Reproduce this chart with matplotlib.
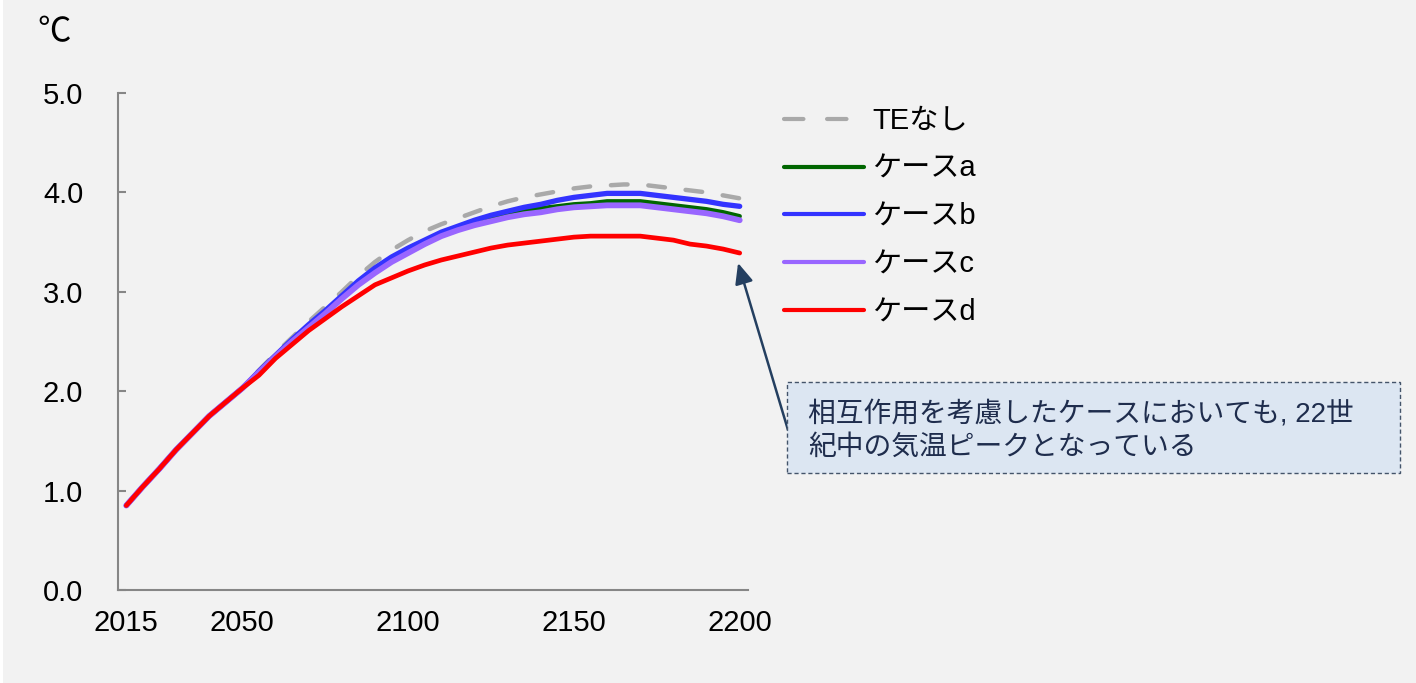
import matplotlib
matplotlib.use("Agg")
import matplotlib.pyplot as plt
from matplotlib.patches import Rectangle

plt.rcParams['font.family'] = ['Liberation Sans', 'Noto Sans CJK JP', 'DejaVu Sans']
plt.rcParams['lines.scale_dashes'] = False

# 5-year steps, 2015-2200
years = list(range(2015, 2201, 5))

common = [0.85, 1.04, 1.22, 1.41, 1.58, 1.75, 1.89, 2.03]

te_none = common + [2.21, 2.38, 2.54, 2.70, 2.85, 3.00, 3.16, 3.30, 3.42, 3.52,
                    3.61, 3.68, 3.74, 3.80, 3.86, 3.91, 3.95, 3.98, 4.01, 4.04,
                    4.06, 4.07, 4.08, 4.08, 4.06, 4.04, 4.02, 4.00, 3.97, 3.94]
case_a = common + [2.20, 2.36, 2.51, 2.66, 2.80, 2.95, 3.09, 3.21, 3.32, 3.42,
                   3.51, 3.59, 3.65, 3.70, 3.74, 3.78, 3.81, 3.84, 3.86, 3.88,
                   3.89, 3.91, 3.91, 3.91, 3.89, 3.87, 3.85, 3.83, 3.80, 3.76]
case_b = common + [2.20, 2.36, 2.52, 2.67, 2.81, 2.96, 3.11, 3.24, 3.35, 3.44,
                   3.52, 3.60, 3.66, 3.72, 3.77, 3.81, 3.85, 3.88, 3.92, 3.95,
                   3.97, 3.99, 3.99, 3.99, 3.97, 3.95, 3.93, 3.91, 3.88, 3.86]
case_c = common + [2.19, 2.35, 2.50, 2.64, 2.78, 2.93, 3.07, 3.19, 3.30, 3.39,
                   3.48, 3.56, 3.62, 3.67, 3.71, 3.75, 3.78, 3.80, 3.83, 3.85,
                   3.86, 3.87, 3.87, 3.87, 3.85, 3.83, 3.81, 3.79, 3.76, 3.72]
case_d = common + [2.16, 2.33, 2.47, 2.61, 2.73, 2.85, 2.96, 3.07, 3.14, 3.21,
                   3.27, 3.32, 3.36, 3.40, 3.44, 3.47, 3.49, 3.51, 3.53, 3.55,
                   3.56, 3.56, 3.56, 3.56, 3.54, 3.52, 3.48, 3.46, 3.43, 3.39]

x_ticks = [2015, 2050, 2100, 2150, 2200]
y_ticks = [0.0, 1.0, 2.0, 3.0, 4.0, 5.0]
labels = ['TEなし', 'ケースa', 'ケースb', 'ケースc', 'ケースd']
note = '相互作用を考慮したケースにおいても, 22世\n紀中の気温ピークとなっている'

BG = '#F2F2F2'
W, H = 1416, 683

fig = plt.figure(figsize=(W / 100, H / 100), dpi=100, facecolor=BG)
fig.patches.append(Rectangle((0, 0), 3 / W, 1, transform=fig.transFigure,
                             facecolor='white', edgecolor='none'))
ax = fig.add_axes([118 / W, 1 - 590 / H, 630 / W, 497 / H])
ax.set_facecolor(BG)

ax.plot(years, te_none, color='#A9A9A9', lw=3.2, dashes=(12, 15),
        dash_capstyle='round', solid_capstyle='round', label=labels[0])
ax.plot(years, case_a, color='#006600', lw=3.2, solid_capstyle='round', label=labels[1])
ax.plot(years, case_b, color='#3333FF', lw=3.8, solid_capstyle='round', label=labels[2])
ax.plot(years, case_c, color='#9966FF', lw=4.2, solid_capstyle='round', label=labels[3])
ax.plot(years, case_d, color='#FF0000', lw=3.4, solid_capstyle='round', label=labels[4])

ax.set_xlim(2012.5, 2202.5)
ax.set_ylim(0, 5)
ax.set_xticks(x_ticks)
ax.set_yticks(y_ticks)
ax.set_yticklabels([f'{v:.1f}' for v in y_ticks])
ax.tick_params(axis='x', length=0, pad=14, labelsize=21)
ax.tick_params(axis='y', direction='in', length=6, width=1.5, color='#868686',
               pad=25, labelsize=21)
for side in ('top', 'right'):
    ax.spines[side].set_visible(False)
for side in ('left', 'bottom'):
    ax.spines[side].set_color('#868686')
    ax.spines[side].set_linewidth(1.5)

fig.text(54 / W, 1 - 32 / H, '℃', fontsize=24, ha='center', va='center',
         family=['Noto Sans CJK JP', 'DejaVu Sans'])

leg = fig.legend(loc='upper left', bbox_to_anchor=(784 / W, 1 - 107 / H), frameon=False,
                 fontsize=21, handlelength=2.75, handletextpad=0.28, labelspacing=0.68,
                 borderpad=0, borderaxespad=0)
for line in leg.get_lines():
    line.set_linewidth(3.0)
leg.get_lines()[0].set_dashes((14, 17))

# note box with arrow toward the end of case d
fig.patches.append(Rectangle((787 / W, 1 - 473 / H), 613 / W, 91 / H,
                             transform=fig.transFigure, facecolor='#DCE6F2',
                             edgecolor='#44546A', lw=1.0, linestyle=(0, (3, 2))))
fig.text(808 / W, 1 - 431 / H, note, fontsize=20, color='#1F2D4D',
         ha='left', va='center', linespacing=1.3)
ax.annotate('', xy=(2199.5, 3.29), xycoords='data',
            xytext=(788, H - 430), textcoords='figure pixels',
            arrowprops=dict(arrowstyle='-|>,head_length=0.5,head_width=0.22',
                            color='#243F60', lw=1.8, mutation_scale=25,
                            shrinkA=0, shrinkB=0))

fig.savefig('out.png', dpi=100, facecolor=BG)
